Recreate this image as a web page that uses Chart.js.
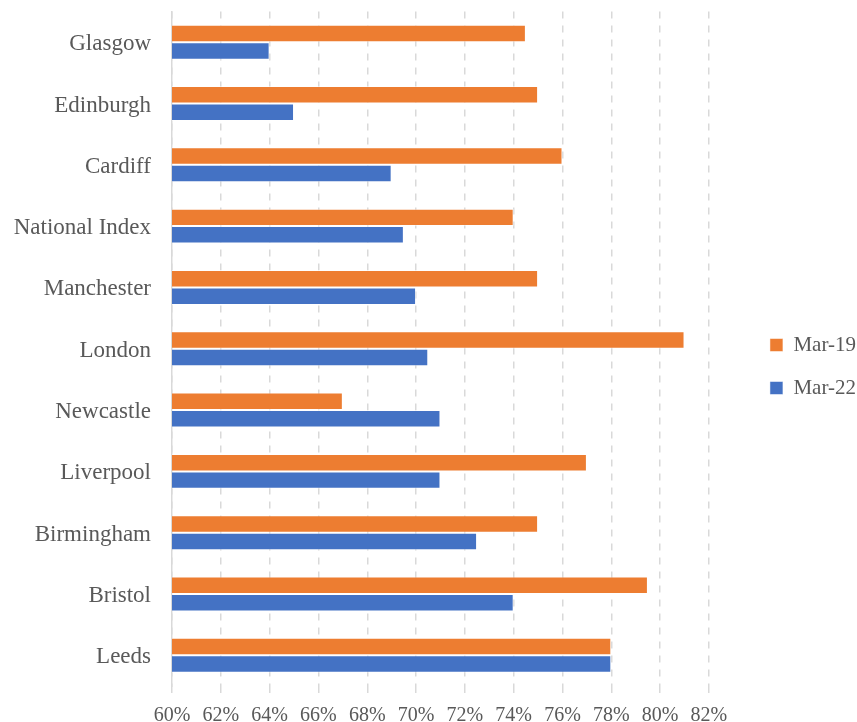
<!DOCTYPE html>
<html>
<head>
<meta charset="utf-8">
<script src="https://cdn.jsdelivr.net/npm/chart.js@4/dist/chart.umd.min.js"></script>
<style>
  html, body { margin: 0; padding: 0; background: #fff; overflow: hidden; }
  canvas { display: block; }
</style>
</head>
<body>
<canvas id="city-chart" width="857" height="722"></canvas>
<script>
// categories, top to bottom
var cities = ["Glasgow", "Edinburgh", "Cardiff", "National Index", "Manchester",
              "London", "Newcastle", "Liverpool", "Birmingham", "Bristol", "Leeds"];
// values in %
var mar19 = [74.5, 75, 76, 74, 75, 81, 67, 77, 75, 79.5, 78];
var mar22 = [64, 65, 69, 69.5, 70, 70.5, 71, 71, 72.5, 74, 78];
var xMin = 60, xMax = 82, xStep = 2;

var textColor = "#595959";
var serif = "'Liberation Serif', 'DejaVu Serif', serif";

// push the legend further right, away from the plot
var legendShift = {
    id: 'legendShift',
    afterLayout: function (chart) {
        chart.legend.left += 39;
        chart.legend.right += 39;
    }
};

var ctx = document.getElementById("city-chart").getContext('2d');
var cityChart = new Chart(ctx, {
    type: 'bar',
    data: {
        labels: cities,
        datasets: [
            {
                label: "Mar-19",
                data: mar19,
                backgroundColor: "#ED7D31",
                borderColor: "rgba(255,255,255,0.5)",
                borderWidth: 1
            },
            {
                label: "Mar-22",
                data: mar22,
                backgroundColor: "#4472C4",
                borderColor: "rgba(255,255,255,0.5)",
                borderWidth: 1
            }
        ]
    },
    plugins: [legendShift],
    options: {
        indexAxis: 'y',
        responsive: false,
        animation: false,
        categoryPercentage: 0.57,
        barPercentage: 1,
        layout: {
            padding: { top: 11, right: 30, left: 0, bottom: 0 }
        },
        scales: {
            x: {
                min: xMin,
                max: xMax,
                afterFit: function (scale) { scale.height = 36; },
                ticks: {
                    stepSize: xStep,
                    autoSkip: false,
                    maxRotation: 0,
                    padding: 11,
                    color: textColor,
                    font: { family: serif, size: 20 },
                    callback: function (v) { return v + '%'; }
                },
                grid: {
                    color: "#d9d9d9",
                    lineWidth: 1.5,
                    drawTicks: true,
                    tickLength: 7,
                    tickBorderDash: [7, 7]
                },
                border: { display: false, dash: [7, 7] }
            },
            y: {
                afterFit: function (scale) { scale.width = 172; },
                ticks: {
                    padding: 0,
                    labelOffset: 2,
                    color: textColor,
                    font: { family: serif, size: 23, lineHeight: 1 }
                },
                grid: { display: false, drawTicks: true, tickLength: 21 },
                border: { display: true, color: "#d9d9d9", width: 1.5 }
            }
        },
        plugins: {
            legend: {
                position: 'right',
                labels: {
                    boxWidth: 13,
                    boxHeight: 13,
                    padding: 22,
                    color: textColor,
                    font: { family: serif, size: 21 }
                }
            },
            tooltip: { enabled: false }
        }
    }
});
</script>
</body>
</html>
